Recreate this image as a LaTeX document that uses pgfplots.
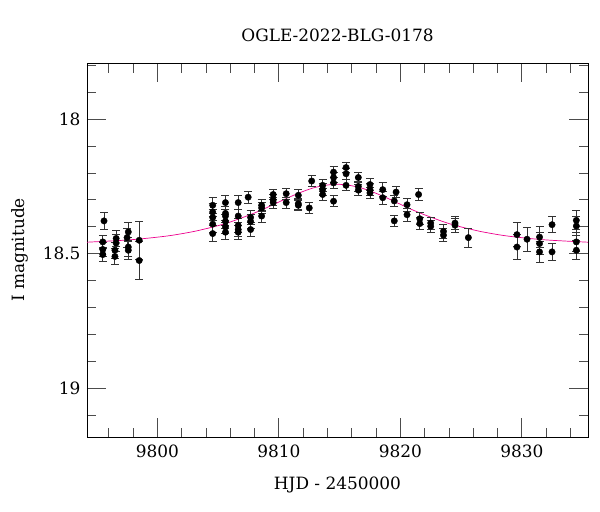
\documentclass[border=0pt]{standalone}
\usepackage{fontspec}
\setmainfont{DejaVu Serif}
\usepackage{pgfplots}
\pgfplotsset{compat=1.18}
\usepackage{pgfplotstable}

% photometry: HJD-2450000, I mag, error
\pgfplotstableread{
x y e
9795.6 18.378 0.032
9795.5 18.456 0.025
9795.5 18.484 0.025
9795.5 18.503 0.025
9796.6 18.443 0.030
9796.6 18.460 0.030
9796.5 18.487 0.030
9796.5 18.510 0.030
9797.6 18.419 0.035
9797.5 18.440 0.035
9797.6 18.475 0.035
9797.6 18.487 0.035
9798.5 18.450 0.070
9798.5 18.525 0.070
9804.55 18.320 0.030
9804.55 18.345 0.030
9804.55 18.365 0.030
9804.55 18.390 0.030
9804.55 18.425 0.030
9805.6 18.310 0.025
9805.6 18.350 0.025
9805.6 18.360 0.025
9805.6 18.380 0.025
9805.6 18.400 0.025
9805.6 18.420 0.025
9806.65 18.310 0.025
9806.65 18.360 0.025
9806.65 18.395 0.025
9806.65 18.410 0.025
9806.65 18.420 0.025
9807.47 18.290 0.022
9807.67 18.365 0.025
9807.67 18.380 0.025
9807.67 18.410 0.025
9808.58 18.320 0.022
9808.58 18.330 0.022
9808.58 18.360 0.022
9809.53 18.280 0.020
9809.53 18.300 0.020
9809.53 18.310 0.020
9810.6 18.277 0.020
9810.6 18.310 0.020
9811.6 18.283 0.020
9811.6 18.314 0.020
9811.6 18.320 0.020
9812.5 18.330 0.022
9812.7 18.230 0.020
9813.6 18.246 0.022
9813.6 18.262 0.022
9813.6 18.280 0.022
9814.5 18.197 0.020
9814.5 18.217 0.020
9814.5 18.237 0.020
9814.5 18.305 0.020
9815.53 18.180 0.020
9815.53 18.203 0.020
9815.53 18.246 0.020
9816.54 18.217 0.020
9816.54 18.250 0.020
9816.54 18.264 0.020
9817.5 18.243 0.022
9817.5 18.262 0.022
9817.5 18.274 0.022
9818.55 18.262 0.025
9818.55 18.292 0.025
9819.5 18.304 0.020
9819.5 18.378 0.020
9819.65 18.271 0.020
9820.55 18.318 0.025
9820.55 18.355 0.025
9821.5 18.280 0.022
9821.6 18.370 0.022
9821.6 18.388 0.022
9822.5 18.386 0.022
9822.5 18.398 0.022
9823.55 18.417 0.025
9823.55 18.431 0.025
9824.5 18.386 0.025
9824.5 18.394 0.025
9825.6 18.440 0.035
9829.6 18.429 0.045
9829.6 18.475 0.045
9830.43 18.446 0.045
9831.46 18.438 0.040
9831.46 18.462 0.040
9831.46 18.493 0.040
9832.49 18.392 0.030
9832.49 18.493 0.030
9834.49 18.376 0.035
9834.49 18.397 0.035
9834.49 18.456 0.035
9834.49 18.487 0.035
}\phot

% model light curve
\pgfplotstableread{
x y
9794.2 18.457
9797.8 18.448
9800.8 18.434
9802.8 18.419
9803.8 18.409
9804.8 18.398
9805.8 18.385
9806.8 18.369
9807.8 18.352
9808.8 18.333
9809.8 18.312
9810.8 18.291
9811.8 18.272
9812.8 18.256
9813.8 18.246
9814.8 18.242
9815.8 18.246
9816.8 18.256
9817.8 18.272
9818.8 18.291
9819.8 18.312
9820.8 18.333
9821.8 18.352
9822.8 18.369
9823.8 18.385
9824.8 18.398
9825.8 18.409
9826.8 18.419
9828.8 18.434
9831.8 18.448
9835.45 18.457
}\model

\begin{document}
\begin{tikzpicture}
\begin{axis}[
    scale only axis,
    width=501bp, height=374bp,
    xmin=9794.2, xmax=9835.45,
    ymin=17.792, ymax=19.18,
    y dir=reverse,
    axis line style={black, line width=0.9bp},
    xtick={9800,9810,9820,9830},
    xticklabels={9800,9810,9820,9830},
    minor xtick={9796,9798,9802,9804,9806,9808,9812,9814,9816,9818,9822,9824,9826,9828,9832,9834},
    ytick={18,18.5,19},
    yticklabels={18,18.5,19},
    minor ytick={17.8,17.9,18.1,18.2,18.3,18.4,18.6,18.7,18.8,18.9,19.1},
    major tick length=19bp,
    minor tick length=9.5bp,
    every tick/.style={black!70, line width=0.8bp},
    tick label style={font=\fontsize{17}{20}\selectfont},
    xticklabel style={yshift=-4bp},
    yticklabel style={xshift=-3bp},
    every axis title/.style={at={(0.5,1)}, anchor=center, yshift=28bp, font=\fontsize{17}{20}\selectfont},
    every axis x label/.style={at={(0.5,0)}, anchor=center, yshift=-48bp, font=\fontsize{17}{20}\selectfont},
    every axis y label/.style={at={(0,0.5)}, xshift=-67bp, rotate=90, anchor=center, font=\fontsize{17}{20}\selectfont},
    title={OGLE-2022-BLG-0178},
    xlabel={HJD - 2450000},
    ylabel={I magnitude},
    ]
    \addplot[magenta, line width=0.7bp, smooth] table[x=x, y=y] {\model};
    \addplot[only marks, mark=*, mark size=3.2bp, black,
        error bars/.cd, y dir=both, y explicit,
        error bar style={black!80, line width=0.9bp},
        error mark options={rotate=90, mark size=4bp, black!80, line width=0.9bp}]
        table[x=x, y=y, y error=e] {\phot};
\end{axis}
\path (current axis.south west) ++(-87bp,-75bp) rectangle ++(600bp,512bp);
\end{tikzpicture}
\end{document}
